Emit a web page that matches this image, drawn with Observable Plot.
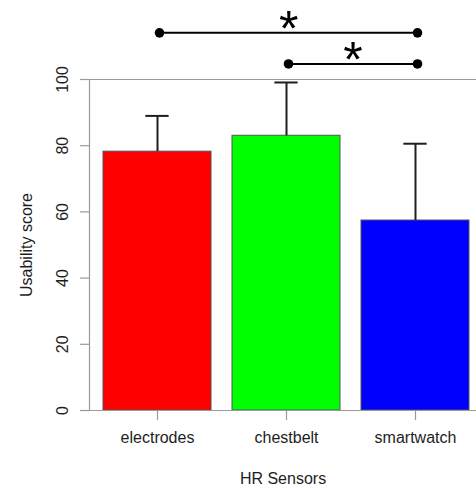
<!DOCTYPE html>
<html>
<head>
<meta charset="utf-8">
<script src="https://cdn.jsdelivr.net/npm/d3@7"></script>
<script src="https://cdn.jsdelivr.net/npm/@observablehq/plot@0.6"></script>
<style>
  html, body { margin: 0; padding: 0; background: #fff; }
  #chart svg { display: block; }
</style>
</head>
<body>
<div id="chart"></div>
<script>
// ---- data ----
const categories = ["electrodes", "chestbelt", "smartwatch"];
const means = [78.2, 83.0, 57.4];
const upperErr = [89.0, 99.1, 80.6];
const barColors = ["#ff0000", "#00ff00", "#0000ff"];
const yTicks = [0, 20, 40, 60, 80, 100];
const compFrom = ["electrodes", "chestbelt"];
const compTo = ["smartwatch", "smartwatch"];
const compY = [114.1, 104.7];
const compLabel = ["*", "*"];
const xTitle = "HR Sensors";
const yTitle = "Usability score";

const bars = categories.map((c, i) => ({cat: c, mean: means[i], upper: upperErr[i], color: barColors[i]}));
const comps = compFrom.map((f, i) => ({from: f, to: compTo[i], y: compY[i], label: compLabel[i]}));
const ends = comps.flatMap(d => [{x: d.from, y: d.y}, {x: d.to, y: d.y}]);

const xOptions = {type: "band", domain: categories, range: [103, 469], paddingInner: 0.166, paddingOuter: 0};
const xs = Plot.scale({x: xOptions});
const half = xs.bandwidth / 2;

const axisGray = "#9a9a9a";
const ink = "#1e1e1e";

const starMarks = comps.map(d => {
  const mid = (xs.apply(d.from) + xs.apply(d.to)) / 2;
  return Plot.text([d], {
    x: "from", y: "y", text: "label",
    dx: mid - xs.apply(d.from) + 2, dy: 13.5,
    fontSize: 50, lineAnchor: "bottom", textAnchor: "middle", fill: "#000"
  });
});

const chart = Plot.plot({
  width: 476,
  height: 489,
  marginLeft: 89,
  marginRight: 0,
  marginTop: 79,
  marginBottom: 79,
  style: {fontFamily: "'Liberation Sans', Arial, sans-serif", fontSize: "16px", color: ink, background: "#fff", overflow: "visible"},
  x: xOptions,
  y: {domain: [0, 100], label: null},
  marks: [
    Plot.barY(bars, {x: "cat", y: "mean", fill: "color", stroke: "#555", strokeWidth: 1}),
    Plot.ruleY([0, 100], {stroke: axisGray, strokeWidth: 1.2}),
    Plot.frame({anchor: "left", stroke: axisGray, strokeWidth: 1.2}),
    Plot.axisY({ticks: yTicks, tickSize: 9, tickFormat: () => "", label: null, stroke: axisGray, strokeWidth: 1.2}),
    Plot.text(yTicks, {y: d => d, text: d => String(d), frameAnchor: "left", dx: -27, rotate: -90, textAnchor: "middle", lineAnchor: "middle", fontSize: 16, fill: ink}),
    Plot.axisX({tickSize: 10, tickPadding: 11, label: null, fontSize: 16, stroke: axisGray, strokeWidth: 1.2, fill: ink}),
    Plot.ruleX(bars, {x: "cat", y1: "mean", y2: "upper", stroke: ink, strokeWidth: 2}),
    Plot.tickY(bars, {x: "cat", y: "upper", stroke: ink, strokeWidth: 2, insetLeft: half - 11.5, insetRight: half - 11.5}),
    Plot.link(comps, {x1: "from", x2: "to", y1: "y", y2: "y", stroke: "#000", strokeWidth: 2, dx: 2}),
    Plot.dot(ends, {x: "x", y: "y", r: 4.8, fill: "#000", dx: 2}),
    ...starMarks,
    Plot.text([xTitle], {frameAnchor: "bottom", dy: 68, text: d => d, fontSize: 16, fill: ink, lineAnchor: "middle"}),
    Plot.text([yTitle], {frameAnchor: "left", dx: -63, rotate: -90, text: d => d, fontSize: 16, fill: ink, lineAnchor: "middle", textAnchor: "middle"})
  ]
});
document.getElementById("chart").appendChild(chart);
</script>
</body>
</html>
